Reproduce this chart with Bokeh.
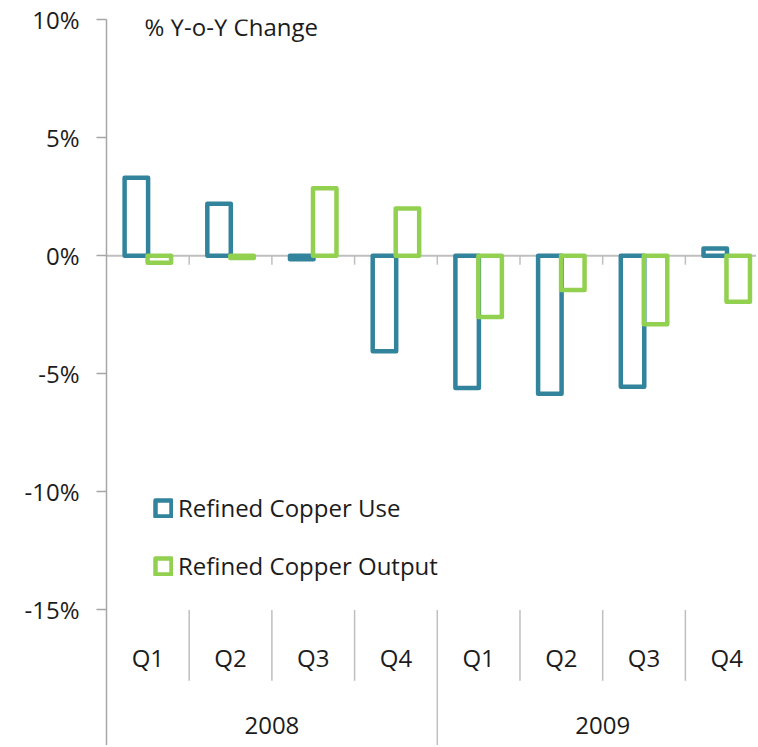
import numpy as np
from bokeh.plotting import figure
from bokeh.models import (Range1d, FixedTicker, PrintfTickFormatter, Span, Label,
                          ColumnDataSource, Legend, LegendItem)
from bokeh.core.properties import value
from bokeh.embed import file_html
from bokeh.resources import INLINE

# ---- data ----
quarters = ["Q1", "Q2", "Q3", "Q4", "Q1", "Q2", "Q3", "Q4"]
years = ["2008", "2009"]
copper_use = [3.3, 2.2, -0.15, -4.05, -5.6, -5.85, -5.55, 0.3]
copper_output = [-0.3, -0.1, 2.85, 2.0, -2.6, -1.45, -2.9, -1.95]
y_ticks = [-15, -10, -5, 0, 5, 10]

FONT = "Open Sans"
FS = "24px"
TXT = "#1c1c1c"
TEAL = "#31849B"
GREEN = "#92D050"
GRID = "#BFBFBF"

n = len(quarters)
idx = np.arange(n)
centers = idx + 0.5
dodge = 0.139
bw = 0.284
Y0 = -20.74

p = figure(width=756, height=745, output_backend="svg", toolbar_location=None,
           x_range=Range1d(0, 7.86), y_range=Range1d(Y0, 10),
           min_border_left=106, min_border_right=0, min_border_top=19, min_border_bottom=0)
p.outline_line_color = None
p.xgrid.visible = False
p.ygrid.visible = False
p.xaxis.visible = False

ya = p.yaxis[0]
ya.ticker = FixedTicker(ticks=y_ticks)
ya.formatter = PrintfTickFormatter(format="%d%%")
ya.major_tick_out = 10
ya.major_tick_in = 0
ya.minor_tick_line_color = None
ya.axis_line_color = "#A6A6A6"
ya.axis_line_width = 1.5
ya.major_tick_line_color = "#A6A6A6"
ya.major_tick_line_width = 1.5
ya.major_label_standoff = 17
ya.major_label_text_font = FONT
ya.major_label_text_font_size = FS
ya.major_label_text_color = TXT

# zero line
p.add_layout(Span(location=0, dimension="width", line_color=GRID, line_width=2, level="underlay"))

# boundary ticks at zero line
inner_b = idx[1:]
p.segment(x0=inner_b, y0=[0] * len(inner_b), x1=inner_b, y1=[-0.38] * len(inner_b),
          line_color=GRID, line_width=1.5)

# category separators below the plot area
year_b = [b for b in inner_b if b % 4 == 0]
q_b = [b for b in inner_b if b % 4 != 0]
p.segment(x0=q_b, y0=[-15] * len(q_b), x1=q_b, y1=[-18.0] * len(q_b),
          line_color=GRID, line_width=1.5)
p.segment(x0=year_b, y0=[-15] * len(year_b), x1=year_b, y1=[Y0] * len(year_b),
          line_color=GRID, line_width=1.5)

# bars
src_use = ColumnDataSource(dict(x=centers - dodge, top=copper_use))
src_out = ColumnDataSource(dict(x=centers + dodge, top=copper_output))
r_use = p.vbar(x="x", top="top", bottom=0, width=bw, source=src_use, fill_color=None,
               line_color=TEAL, line_width=4.5, line_join="round")
r_out = p.vbar(x="x", top="top", bottom=0, width=bw, source=src_out, fill_color=None,
               line_color=GREEN, line_width=4.5, line_join="round")

# category labels
p.text(x=centers, y=[-17.0] * n, text=quarters, text_font=value(FONT), text_font_size=FS,
       text_color=TXT, text_align="center", text_baseline="middle")
year_centers = [2.0, 6.0]
p.text(x=year_centers, y=[-19.9] * len(years), text=years, text_font=value(FONT),
       text_font_size=FS, text_color=TXT, text_align="center", text_baseline="middle")

# title inside plot
p.add_layout(Label(x=0.46, y=9.69, text="% Y-o-Y Change", text_font=FONT, text_font_size=FS,
                   text_color=TXT, text_baseline="middle", text_align="left"))

legend = Legend(items=[LegendItem(label="Refined Copper Use", renderers=[r_use]),
                       LegendItem(label="Refined Copper Output", renderers=[r_out])],
                location=(47, 163), orientation="vertical")
legend.glyph_width = 20
legend.glyph_height = 20
legend.label_height = 20
legend.spacing = 25
legend.padding = 0
legend.margin = 0
legend.label_standoff = 5
legend.border_line_color = None
legend.background_fill_alpha = 0
legend.label_text_font = FONT
legend.label_text_font_size = FS
legend.label_text_color = TXT
p.add_layout(legend)

open("out.html", "w").write(file_html(p, INLINE))
